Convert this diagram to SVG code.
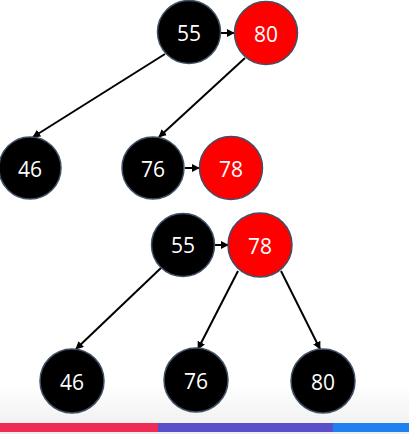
<svg xmlns="http://www.w3.org/2000/svg" width="409" height="434" viewBox="0 0 409 434">
<defs>
<marker id="ah" viewBox="0 0 10 10" refX="9" refY="5" markerWidth="8" markerHeight="8" markerUnits="userSpaceOnUse" orient="auto">
<path d="M0,0 L10,5 L0,10 z" fill="#000"/>
</marker>
<linearGradient id="bg" x1="0" y1="0" x2="0" y2="1">
<stop offset="0" stop-color="#ffffff"/>
<stop offset="1" stop-color="#eeeeee"/>
</linearGradient>
</defs>
<style>
.n circle{stroke:#3f4f66;stroke-width:1.5}
.b circle{fill:#000}
.r circle{fill:#ff0000}
.n text{fill:#fff;font-family:"Open Sans","Liberation Sans",sans-serif;font-size:21px;text-anchor:middle;dominant-baseline:central}
.e line{stroke:#000;stroke-width:2;marker-end:url(#ah)}
</style>
<rect x="0" y="0" width="409" height="434" fill="#fff"/>
<rect x="0" y="385" width="409" height="49" fill="url(#bg)"/>
<rect x="0" y="423" width="158" height="9" fill="#ee2c55"/>
<rect x="158" y="423" width="175" height="9" fill="#5a4fc9"/>
<rect x="333" y="423" width="76" height="9" fill="#1f80f0"/>
<g id="connectors" class="e">
<line x1="165" y1="54" x2="33" y2="137"/>
<line x1="245" y1="58" x2="159" y2="137"/>
<line x1="221" y1="33" x2="234" y2="33"/>
<line x1="185" y1="168" x2="199" y2="168"/>
<line x1="162" y1="267" x2="76" y2="349"/>
<line x1="238" y1="271" x2="198" y2="349"/>
<line x1="281" y1="271" x2="320" y2="349"/>
<line x1="215" y1="245" x2="228" y2="245"/>
</g>
<g id="n55a" class="n b"><circle cx="189" cy="32" r="31.5"/><text x="189" y="33">55</text></g>
<g id="n80a" class="n r"><circle cx="266" cy="33" r="31.5"/><text x="266" y="34">80</text></g>
<g id="n46a" class="n b"><circle cx="30" cy="168" r="31"/><text x="30" y="169">46</text></g>
<g id="n76a" class="n b"><circle cx="153" cy="168" r="31"/><text x="153" y="169">76</text></g>
<g id="n78a" class="n r"><circle cx="231" cy="168" r="31.5"/><text x="231" y="169">78</text></g>
<g id="n55b" class="n b"><circle cx="183" cy="245" r="31.5"/><text x="183" y="245">55</text></g>
<g id="n78b" class="n r"><circle cx="260" cy="245" r="32"/><text x="260" y="246">78</text></g>
<g id="n46b" class="n b"><circle cx="72" cy="381" r="32"/><text x="72" y="382">46</text></g>
<g id="n76b" class="n b"><circle cx="196" cy="380" r="32"/><text x="196" y="381">76</text></g>
<g id="n80b" class="n b"><circle cx="323" cy="381" r="32"/><text x="323" y="382">80</text></g>
</svg>
